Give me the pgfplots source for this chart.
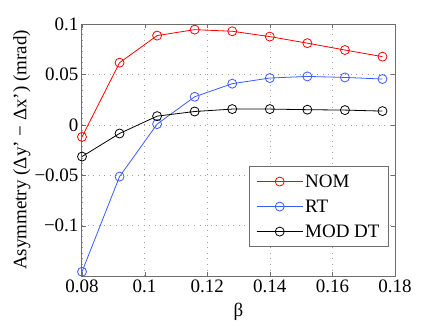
\documentclass[border=0pt]{standalone}
\usepackage{fontspec}
\setmainfont{Liberation Serif}
\usepackage{pgfplots}
\pgfplotsset{compat=1.18}
\definecolor{mblue}{RGB}{60,90,255}
\definecolor{axgray}{RGB}{110,110,110}
\begin{document}
\begin{tikzpicture}
\useasboundingbox (-82pt,-49pt) rectangle (354pt,276pt);
\begin{axis}[
  at={(0,0)}, anchor=south west,
  scale only axis, width=313pt, height=252pt,
  xmin=0.08, xmax=0.18, ymin=-0.15, ymax=0.1,
  xtick={0.08,0.1,0.12,0.14,0.16,0.18},
  xticklabels={0.08,0.1,0.12,0.14,0.16,0.18},
  ytick={-0.1,-0.05,0,0.05,0.1},
  yticklabels={\char"2212 0.1,\char"2212 0.05,0,0.05,0.1},
  font=\fontsize{19}{22}\selectfont,
  tick label style={font=\fontsize{19}{22}\selectfont},
  grid=major,
  grid style={dash pattern=on 0.8pt off 4.8pt, gray!75, line width=0.6pt},
  tick align=inside, major tick length=4pt,
  axis line style={axgray, line width=1pt},
  tick style={axgray},
  xlabel={β}, ylabel={Asymmetry (Δy’ − Δx’) (mrad)},
  xlabel style={at={(axis description cs:0.5,0)}, anchor=north, yshift=-24pt},
  ylabel style={at={(axis description cs:0,0.5)}, anchor=south, yshift=48pt},
  legend style={at={(axis description cs:0.981,0.4365)}, anchor=north east,
    draw=axgray, line width=1pt, fill=white, font=\fontsize{19}{22}\selectfont,
    row sep=7pt, inner xsep=7pt, inner ysep=6pt},
  legend cell align=left,
  legend image code/.code={%
    \draw[#1, mark repeat=2, mark phase=2] plot coordinates {(0pt,0pt) (23pt,0pt) (46pt,0pt)};},
  every axis plot/.append style={line width=0.8pt, mark=o, mark size=4.5pt, mark options={solid}},
]
\addplot[red] coordinates {(0.08,-0.012) (0.092,0.0616) (0.104,0.0885) (0.116,0.0944) (0.128,0.0928) (0.14,0.0875) (0.152,0.081) (0.164,0.0742) (0.176,0.0676)};
\addlegendentry{NOM}
\addplot[mblue] coordinates {(0.08,-0.1458) (0.092,-0.0514) (0.104,0.0007) (0.116,0.0278) (0.128,0.0408) (0.14,0.0464) (0.152,0.048) (0.164,0.047) (0.176,0.0454)};
\addlegendentry{RT}
\addplot[black] coordinates {(0.08,-0.0315) (0.092,-0.0086) (0.104,0.0086) (0.116,0.0132) (0.128,0.0156) (0.14,0.0156) (0.152,0.015) (0.164,0.0146) (0.176,0.0136)};
\addlegendentry{MOD DT}
\end{axis}
\end{tikzpicture}
\end{document}
